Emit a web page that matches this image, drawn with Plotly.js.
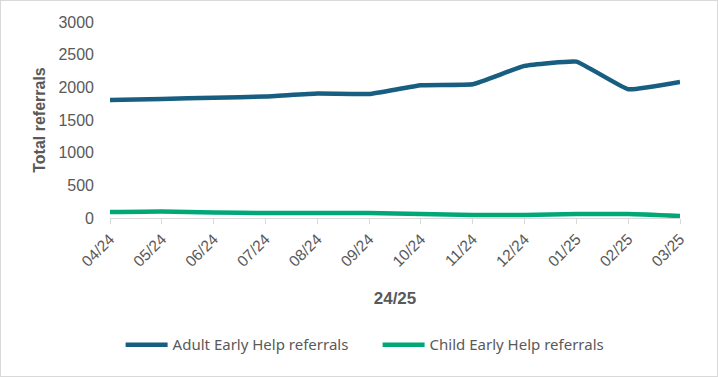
<!DOCTYPE html>
<html>
<head>
<meta charset="utf-8">
<script src="https://cdn.plot.ly/plotly-3.0.1.min.js"></script>
<style>
html,body{margin:0;padding:0;background:#fff;}
#frame{width:718px;height:377px;box-sizing:border-box;border:1px solid #d9d9d9;}
#chart{width:716px;height:375px;}
</style>
</head>
<body>
<div id="frame"><div id="chart"></div></div>
<script>
const months = ["04/24","05/24","06/24","07/24","08/24","09/24","10/24","11/24","12/24","01/25","02/25","03/25"];
const adultReferrals = [1807, 1822, 1842, 1858, 1904, 1899, 2032, 2047, 2328, 2394, 1971, 2083];
const childReferrals = [90, 100, 85, 75, 75, 75, 60, 45, 45, 60, 60, 30];
const seriesNames = ["Adult Early Help referrals", "Child Early Help referrals"];

const traces = [
  {x: months, y: adultReferrals, name: seriesNames[0], type: "scatter", mode: "lines",
   line: {color: "#175E80", width: 4.5, shape: "spline", smoothing: 0.3}},
  {x: months, y: childReferrals, name: seriesNames[1], type: "scatter", mode: "lines",
   line: {color: "#00A878", width: 4.5, shape: "spline", smoothing: 0.5}}
];

const layout = {
  width: 716, height: 375,
  margin: {l: 109, r: 37, t: 21, b: 158},
  paper_bgcolor: "#fff", plot_bgcolor: "#fff",
  font: {family: "Liberation Sans, Arial, sans-serif", color: "#595959"},
  showlegend: true,
  legend: {orientation: "h", xref: "container", x: 0.526, xanchor: "center", yref: "container", y: 0.083, yanchor: "middle",
           font: {family: "Noto Sans, sans-serif", size: 15, color: "#595959"}, itemwidth: 42,
           entrywidth: 200, entrywidthmode: "pixels", traceorder: "normal"},
  xaxis: {
    type: "category", range: [0, 11], showgrid: false, zeroline: false, automargin: false,
    showline: true, linecolor: "#d9d9d9", linewidth: 1,
    ticks: "outside", tickcolor: "#d9d9d9", ticklen: 5,
    tickangle: -45, tickfont: {size: 15.5, color: "#595959"},
    title: {text: "24/25", font: {size: 17, color: "#595959", weight: "bold"}, standoff: 23}
  },
  yaxis: {
    range: [0, 3000], dtick: 500, showgrid: false, zeroline: false, showline: false, automargin: false,
    tickfont: {size: 16, color: "#595959"},
    ticklabelstandoff: 15,
    title: {text: "Total referrals", font: {size: 16, color: "#595959", weight: "bold"}, standoff: 8}
  }
};

Plotly.newPlot("chart", traces, layout, {displayModeBar: false, staticPlot: true});
</script>
</body>
</html>
